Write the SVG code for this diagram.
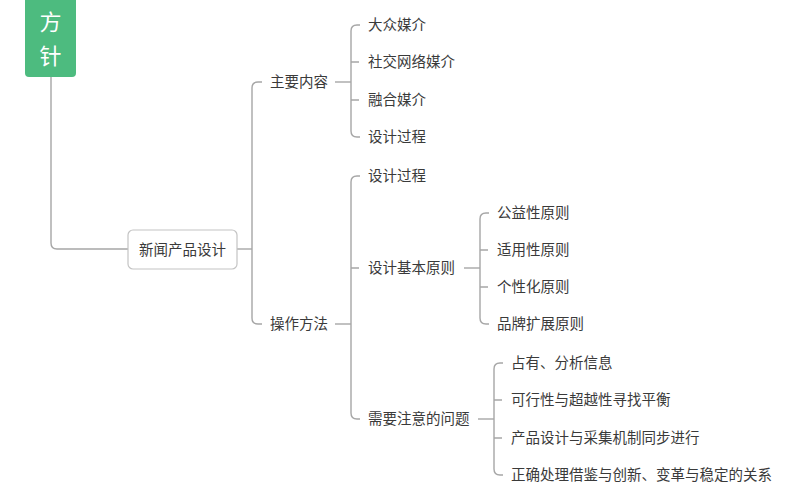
<svg xmlns="http://www.w3.org/2000/svg" width="805" height="500" viewBox="0 0 805 500">
<style>
.t{font-family:"Noto Sans CJK SC","Noto Sans",sans-serif;font-size:14.5px;fill:#3a3a3a}
.c{fill:none;stroke:#a6a6a6;stroke-width:1.4}
</style>
<rect width="805" height="500" fill="#ffffff"/>
<g id="connectors" class="c">
<path d="M51,77 V243 Q51,249 57,249 H128"/>
<path d="M237,249 H252"/>
<path d="M262,82 H258 Q252,82 252,88 V318 Q252,324 258,324 H262"/>
<path d="M335,82 H351"/>
<path d="M360,25 H357 Q351,25 351,31 V131 Q351,137 357,137 H360 M351,62 H359 M351,100 H359"/>
<path d="M335,324 H351"/>
<path d="M360,176 H357 Q351,176 351,182 V413 Q351,419 357,419 H360 M351,268 H359"/>
<path d="M464,268 H480"/>
<path d="M489,213 H486 Q480,213 480,219 V318 Q480,324 486,324 H489 M480,250 H488 M480,287 H488"/>
<path d="M478,419 H494"/>
<path d="M503,363 H500 Q494,363 494,369 V469 Q494,475 500,475 H503 M494,400 H502 M494,438 H502"/>
</g>
<g id="root">
<path d="M25,0 H76 V73 Q76,77 72,77 H29 Q25,77 25,73 Z" fill="#4dbb7f"/>
<text x="50.5" y="30" text-anchor="middle" style="font-family:'Noto Sans CJK SC',sans-serif;font-size:22px;fill:#ffffff">方</text>
<text x="50.5" y="64" text-anchor="middle" style="font-family:'Noto Sans CJK SC',sans-serif;font-size:22px;fill:#ffffff">针</text>
</g>
<g id="n-xwcpsj">
<rect x="128" y="230" width="109" height="39" rx="5" fill="#ffffff" stroke="#c4c4c4" stroke-width="1.2"/>
<text class="t" x="182.5" y="255" text-anchor="middle">新闻产品设计</text>
</g>
<g id="n-zynr"><text class="t" x="270" y="87">主要内容</text></g>
<g id="n-dzmj"><text class="t" x="368" y="30">大众媒介</text></g>
<g id="n-sjwl"><text class="t" x="368" y="67">社交网络媒介</text></g>
<g id="n-rhmj"><text class="t" x="368" y="105">融合媒介</text></g>
<g id="n-sjgc1"><text class="t" x="368" y="142">设计过程</text></g>
<g id="n-czff"><text class="t" x="270" y="329">操作方法</text></g>
<g id="n-sjgc2"><text class="t" x="368" y="181">设计过程</text></g>
<g id="n-sjjbyz"><text class="t" x="368" y="273">设计基本原则</text></g>
<g id="n-gyx"><text class="t" x="497" y="218">公益性原则</text></g>
<g id="n-syx"><text class="t" x="497" y="255">适用性原则</text></g>
<g id="n-gxh"><text class="t" x="497" y="292">个性化原则</text></g>
<g id="n-ppkz"><text class="t" x="497" y="329">品牌扩展原则</text></g>
<g id="n-xyzy"><text class="t" x="368" y="424">需要注意的问题</text></g>
<g id="n-zy"><text class="t" x="511" y="368">占有、分析信息</text></g>
<g id="n-kxx"><text class="t" x="511" y="405">可行性与超越性寻找平衡</text></g>
<g id="n-cpsj"><text class="t" x="511" y="443">产品设计与采集机制同步进行</text></g>
<g id="n-zqcl"><text class="t" x="511" y="480">正确处理借鉴与创新、变革与稳定的关系</text></g>
</svg>
